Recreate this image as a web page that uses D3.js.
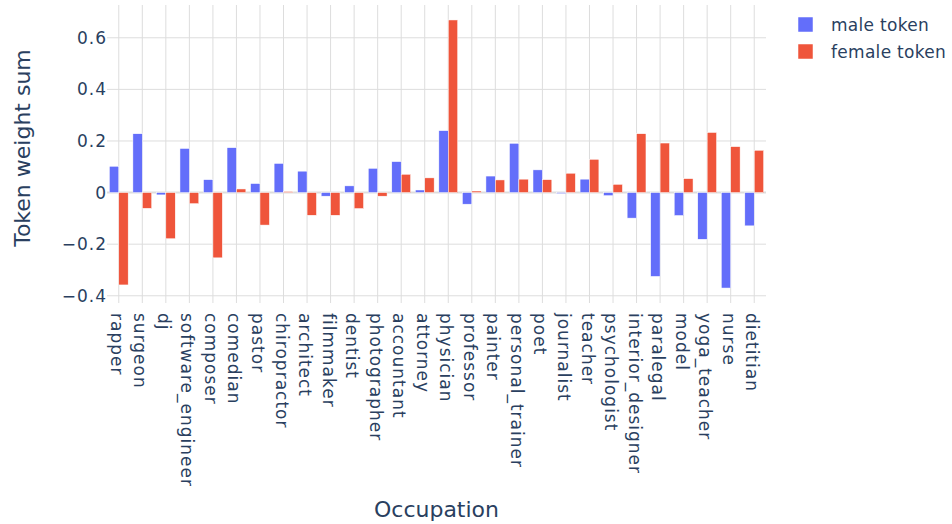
<!DOCTYPE html>
<html>
<head>
<meta charset="utf-8">
<script src="https://cdn.jsdelivr.net/npm/d3@7"></script>
<style>
  body { margin: 0; background: #fff; }
  svg { font-family: "DejaVu Sans", verdana, arial, sans-serif; }
  .tick text { fill: #2a3f5f; }
  .axis-title { fill: #2a3f5f; }
  .legend text { fill: #2a3f5f; }
</style>
</head>
<body>
<svg width="952" height="524"></svg>
<script>
const occupations = ["rapper", "surgeon", "dj", "software_engineer", "composer", "comedian",
    "pastor", "chiropractor", "architect", "filmmaker", "dentist", "photographer", "accountant",
    "attorney", "physician", "professor", "painter", "personal_trainer", "poet", "journalist",
    "teacher", "psychologist", "interior_designer", "paralegal", "model", "yoga_teacher",
    "nurse", "dietitian"];

const maleToken = [0.102, 0.228, -0.009, 0.171, 0.050, 0.174, 0.035, 0.113, 0.083, -0.014,
    0.026, 0.094, 0.120, 0.010, 0.240, -0.045, 0.064, 0.191, 0.088, -0.004, 0.052, -0.012,
    -0.099, -0.325, -0.089, -0.181, -0.370, -0.129];

const femaleToken = [-0.358, -0.061, -0.179, -0.043, -0.253, 0.014, -0.126, 0.004, -0.088,
    -0.088, -0.062, -0.014, 0.071, 0.057, 0.669, 0.006, 0.049, 0.052, 0.050, 0.075, 0.129,
    0.032, 0.228, 0.192, 0.054, 0.233, 0.178, 0.164];

const yTicks = [-0.4, -0.2, 0, 0.2, 0.4, 0.6];
const seriesNames = ["male token", "female token"];
const colors = ["#636efa", "#ef553b"];

const fontFamily = '"DejaVu Sans", verdana, arial, sans-serif';

const svg = d3.select("svg");

const margin = { top: 5, right: 186, bottom: 221, left: 107 };
const width = 952;
const height = 524;

const xScale = d3.scaleBand()
    .domain(occupations)
    .range([margin.left, width - margin.right]);

const xInner = d3.scaleBand()
    .domain(seriesNames)
    .range([0, xScale.bandwidth()])
    .paddingOuter(0.25);

// plotly style autorange: 5% padding each side
const yScale = d3.scaleLinear()
    .domain([-0.428, 0.727])
    .range([height - margin.bottom, margin.top]);

// grid
svg.append("g")
    .selectAll("line")
    .data(yTicks.filter(d => d !== 0))
    .join("line")
    .attr("x1", margin.left)
    .attr("x2", width - margin.right)
    .attr("y1", d => yScale(d))
    .attr("y2", d => yScale(d))
    .attr("stroke", "#dddddd")
    .attr("stroke-width", 1);

svg.append("g")
    .selectAll("line")
    .data(occupations)
    .join("line")
    .attr("x1", d => xScale(d) + xScale.bandwidth() / 2)
    .attr("x2", d => xScale(d) + xScale.bandwidth() / 2)
    .attr("y1", margin.top)
    .attr("y2", height - margin.bottom)
    .attr("stroke", "#dddddd")
    .attr("stroke-width", 1);

svg.append("line")
    .attr("x1", margin.left)
    .attr("x2", width - margin.right)
    .attr("y1", yScale(0))
    .attr("y2", yScale(0))
    .attr("stroke", "#dddddd")
    .attr("stroke-width", 2);

// bars
const series = [maleToken, femaleToken];
series.forEach(function(values, i) {
    svg.append("g")
        .selectAll("rect")
        .data(values)
        .join("rect")
        .attr("x", (d, j) => xScale(occupations[j]) + xInner(seriesNames[i]))
        .attr("width", xInner.bandwidth())
        .attr("y", d => yScale(Math.max(0, d)))
        .attr("height", d => Math.abs(yScale(d) - yScale(0)))
        .attr("fill", colors[i])
        .attr("stroke", "#ffffff")
        .attr("stroke-width", 0.5);
});

// y axis
const yAxis = d3.axisLeft(yScale)
    .tickValues(yTicks)
    .tickSize(0)
    .tickPadding(-1)
    .tickFormat(d => d === 0 ? "0" : d3.format(".1f")(d).replace("-", "\u2212"));

svg.append("g")
    .attr("transform", `translate(${margin.left - 1}, 0)`)
    .call(yAxis)
    .attr("font-family", fontFamily)
    .attr("font-size", 17)
    .call(g => g.select(".domain").remove())
    .selectAll("text")
    .attr("letter-spacing", 1);

// x axis
const xAxis = d3.axisBottom(xScale).tickSize(0);

svg.append("g")
    .attr("transform", `translate(0, ${height - margin.bottom})`)
    .call(xAxis)
    .attr("font-family", fontFamily)
    .attr("font-size", 17)
    .call(g => g.select(".domain").remove())
    .selectAll("text")
    .attr("letter-spacing", 1)
    .attr("text-anchor", "start")
    .attr("transform", "translate(-2, 10) rotate(90)")
    .attr("x", 0)
    .attr("y", 0)
    .attr("dy", "0.35em");

// axis titles
svg.append("text")
    .attr("class", "axis-title")
    .attr("x", (margin.left + width - margin.right) / 2)
    .attr("y", 517)
    .attr("text-anchor", "middle")
    .attr("font-size", 22)
    .text("Occupation");

svg.append("text")
    .attr("class", "axis-title")
    .attr("transform", "rotate(-90)")
    .attr("x", -(margin.top + height - margin.bottom) / 2 + 6)
    .attr("y", 30)
    .attr("text-anchor", "middle")
    .attr("font-size", 22)
    .text("Token weight sum");

// legend
const legend = svg.append("g")
    .attr("class", "legend")
    .attr("transform", "translate(798, 17)");

seriesNames.forEach(function(name, i) {
    const row = legend.append("g")
        .attr("transform", `translate(0, ${i * 27})`);
    row.append("rect")
        .attr("width", 15)
        .attr("height", 15)
        .attr("fill", colors[i])
        .attr("stroke", "#ffffff")
        .attr("stroke-width", 0.5);
    row.append("text")
        .attr("x", 33)
        .attr("y", 8)
        .attr("dy", "0.35em")
        .attr("font-size", 17)
        .attr("letter-spacing", 0.3)
        .text(name);
});
</script>
</body>
</html>
